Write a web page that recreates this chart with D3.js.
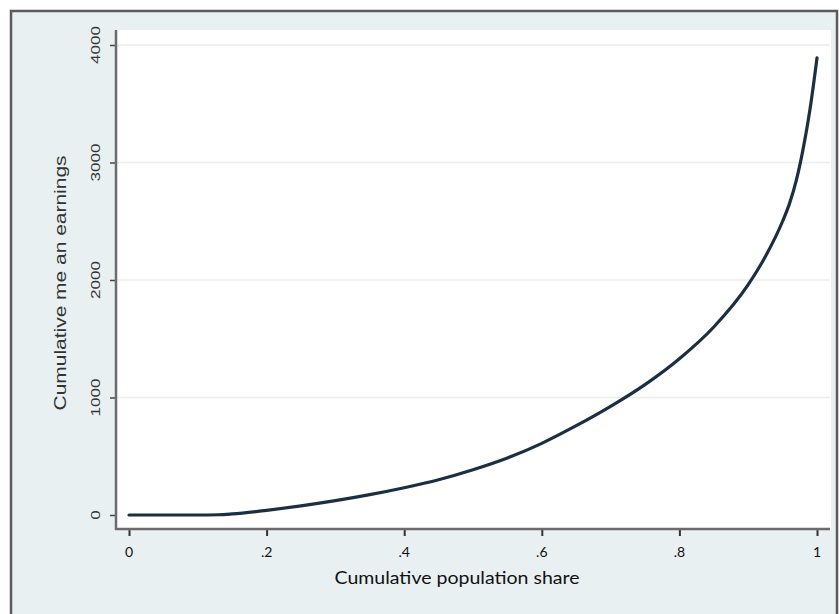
<!DOCTYPE html>
<html><head><meta charset="utf-8">
<script src="https://cdn.jsdelivr.net/npm/d3@7"></script>
<style>body{margin:0;background:#fff}svg{display:block}</style>
</head><body>
<script>
const shares = [0, .05, .1, .13, .15, .2, .25, .3, .35, .4, .45, .5, .55, .6, .65, .7, .75, .8, .85, .9, .925, .95, .96, .97, .98, .99, 1];
const values = [0, 0, 0, 2, 9, 40, 78, 122, 173, 232, 300, 385, 485, 610, 760, 925, 1110, 1330, 1600, 1960, 2200, 2500, 2650, 2850, 3120, 3460, 3890];
const xTicks = [0, .2, .4, .6, .8, 1];
const xTickLabels = ["0", ".2", ".4", ".6", ".8", "1"];
const yTicks = [0, 1000, 2000, 3000, 4000];
const yTickLabels = ["0", "1000", "2000", "3000", "4000"];
const xTitle = "Cumulative population share";
const yTitle = "Cumulative me an earnings";

const W = 839, H = 614;
const svg = d3.select("body").append("svg").attr("width", W).attr("height", H);
svg.append("rect").attr("x", 0).attr("y", 0).attr("width", W).attr("height", H).attr("fill", "#ffffff");
svg.append("rect").attr("x", 11).attr("y", 11).attr("width", 826).attr("height", 610)
  .attr("fill", "#e9f0f2").attr("stroke", "#5a5a5a").attr("stroke-width", 2.5);

const plot = {l: 116, r: 831, t: 30, b: 529};
svg.append("rect").attr("x", plot.l).attr("y", plot.t).attr("width", plot.r - plot.l).attr("height", plot.b - plot.t).attr("fill", "#ffffff");

const x = d3.scaleLinear().domain([0, 1]).range([129, 817]);
const y = d3.scaleLinear().domain([0, 4000]).range([515, 45]);

// gridlines
svg.append("g").selectAll("line").data(yTicks.slice(1)).join("line")
  .attr("x1", plot.l + 1).attr("x2", plot.r - 1)
  .attr("y1", d => y(d)).attr("y2", d => y(d))
  .attr("stroke", "#ececec").attr("stroke-width", 1.5);

// y axis
const yAxis = d3.axisLeft(y).tickValues(yTicks).tickSize(6).tickFormat("");
const gy = svg.append("g").attr("transform", `translate(${plot.l},0)`).call(yAxis);
gy.select(".domain").remove();
gy.selectAll(".tick line").attr("stroke", "#444").attr("stroke-width", 1.5);
svg.append("line").attr("x1", plot.l).attr("x2", plot.l).attr("y1", plot.t).attr("y2", plot.b + 1)
  .attr("stroke", "#6b6b6b").attr("stroke-width", 2.5);
svg.append("g").selectAll("text").data(yTicks).join("text")
  .attr("transform", d => `translate(100,${y(d)}) rotate(-90)`)
  .attr("text-anchor", "middle")
  .attr("font-family", "Liberation Sans, Arial, sans-serif").attr("font-size", 13)
  .attr("fill", "#333")
  .attr("textLength", (d, i) => yTickLabels[i].length * 9.5)
  .attr("lengthAdjust", "spacingAndGlyphs")
  .text((d, i) => yTickLabels[i]);

// x axis
const xAxis = d3.axisBottom(x).tickValues(xTicks).tickSize(7).tickFormat("");
const gx = svg.append("g").attr("transform", `translate(0,${plot.b})`).call(xAxis);
gx.select(".domain").remove();
gx.selectAll(".tick line").attr("stroke", "#333").attr("stroke-width", 2);
svg.append("line").attr("x1", plot.l - 1).attr("x2", plot.r - 1).attr("y1", plot.b).attr("y2", plot.b)
  .attr("stroke", "#6b6b6b").attr("stroke-width", 2.5);
svg.append("g").selectAll("text").data(xTicks).join("text")
  .attr("x", d => x(d)).attr("y", 557)
  .attr("text-anchor", "middle")
  .attr("font-family", "Lato, Open Sans, sans-serif").attr("font-size", 14)
  .attr("fill", "#111")
  .text((d, i) => xTickLabels[i]);

// titles
svg.append("text").attr("x", 457).attr("y", 584).attr("text-anchor", "middle")
  .attr("font-family", "Lato, Open Sans, sans-serif").attr("font-size", 18).attr("fill", "#111")
  .attr("textLength", 245).attr("lengthAdjust", "spacingAndGlyphs")
  .text(xTitle);
svg.append("text").attr("transform", "translate(66,283) rotate(-90)").attr("text-anchor", "middle")
  .attr("font-family", "Liberation Sans, Arial, sans-serif").attr("font-size", 16).attr("fill", "#333")
  .attr("textLength", 255).attr("lengthAdjust", "spacingAndGlyphs")
  .text(yTitle);

// curve
const data = shares.map((s, i) => ({s, v: values[i]}));
const line = d3.line().x(d => x(d.s)).y(d => y(d.v)).curve(d3.curveMonotoneX);
svg.append("path").datum(data).attr("d", line).attr("fill", "none")
  .attr("stroke", "#1b2f42").attr("stroke-width", 3.2).attr("stroke-linecap", "round");
</script>
</body></html>
